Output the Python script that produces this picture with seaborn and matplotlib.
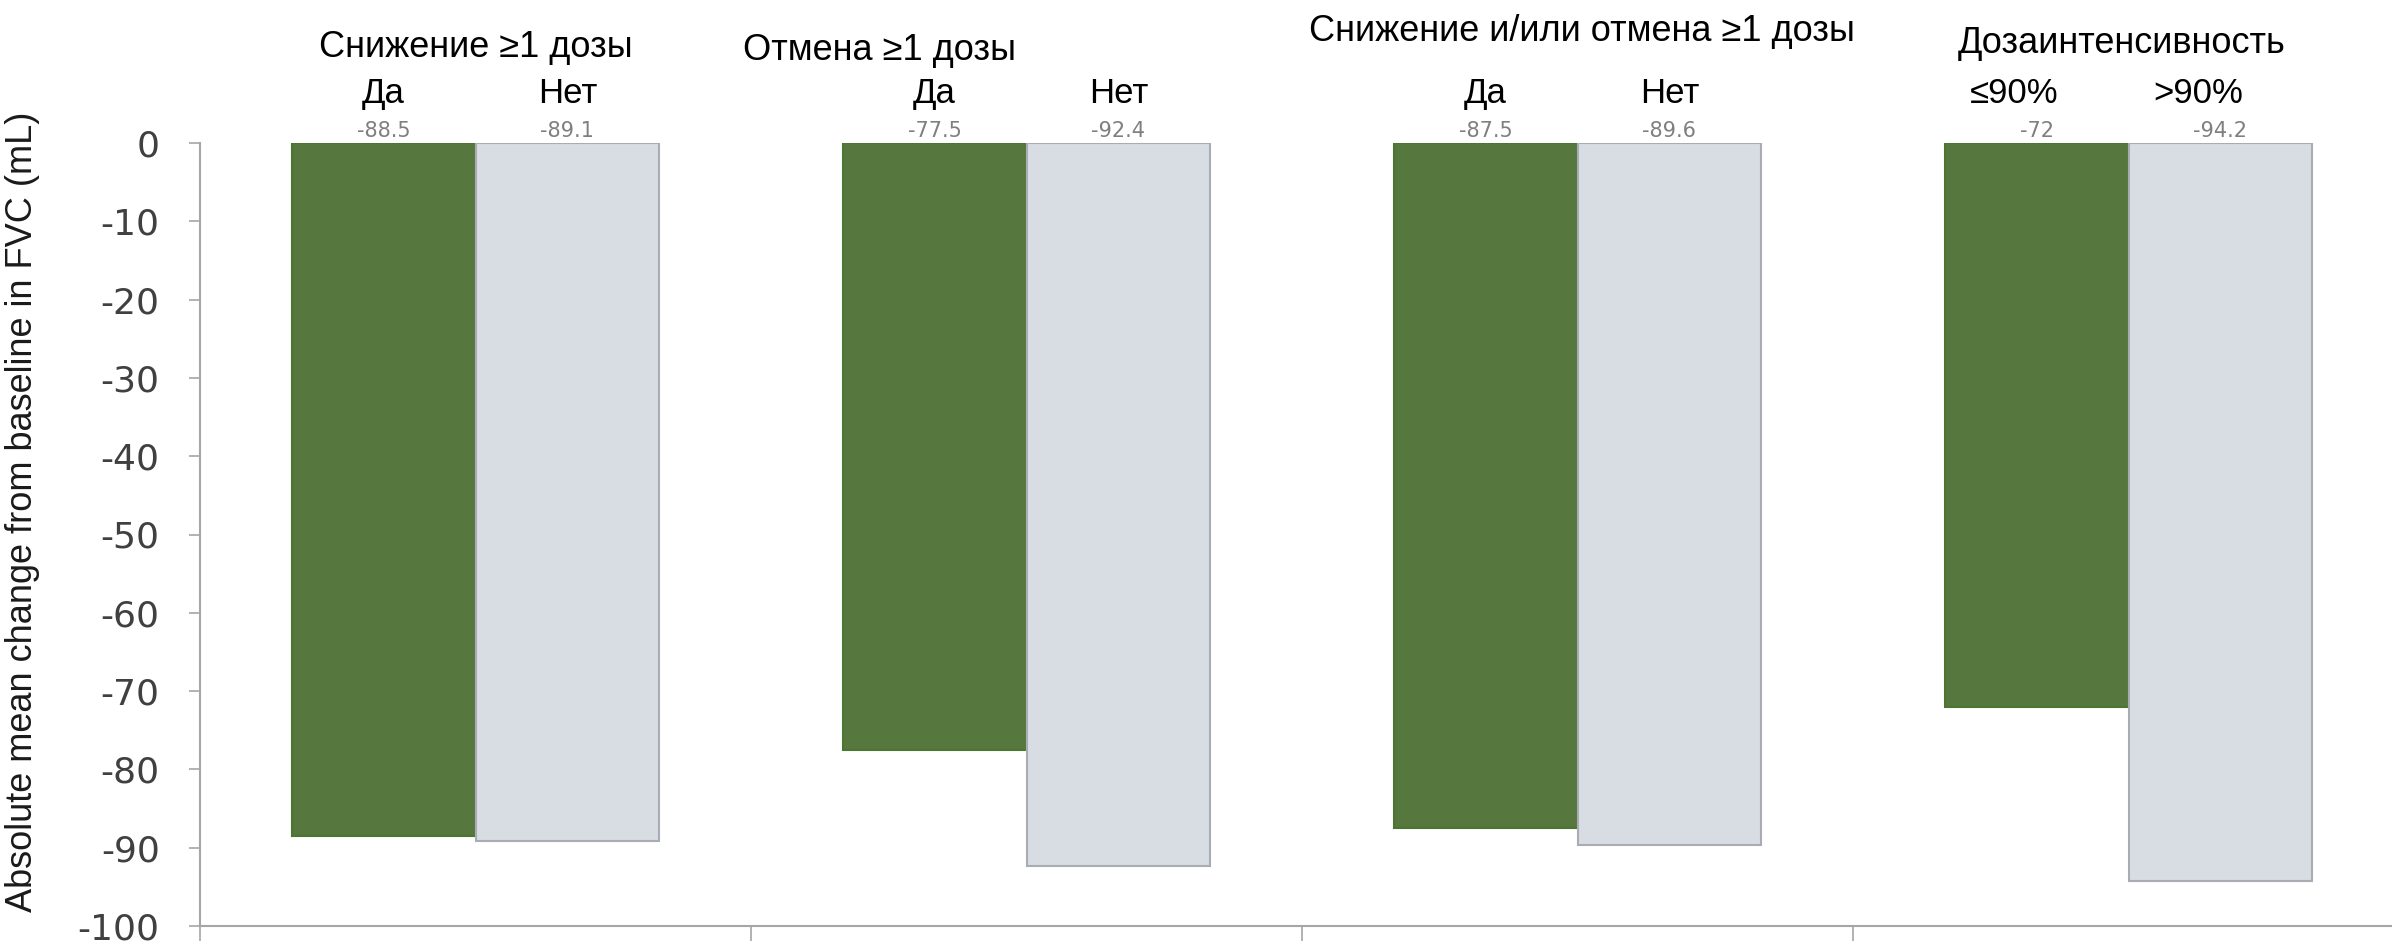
import matplotlib
matplotlib.use("Agg")
import matplotlib.pyplot as plt
import seaborn as sns
import pandas as pd
import warnings
warnings.filterwarnings('ignore')

# data
groups = ["Снижение ≥1 дозы", "Отмена ≥1 дозы",
          "Снижение и/или отмена ≥1 дозы", "Дозаинтенсивность"]
sub_labels = [["Да", "Нет"], ["Да", "Нет"], ["Да", "Нет"], ["≤90%", ">90%"]]
first_vals = [-88.5, -77.5, -87.5, -72.0]
second_vals = [-89.1, -92.4, -89.6, -94.2]
value_text = [["-88.5", "-89.1"], ["-77.5", "-92.4"], ["-87.5", "-89.6"], ["-72", "-94.2"]]
yticks = list(range(0, -101, -10))

df = pd.DataFrame({
    "group": groups * 2,
    "level": ["first"] * 4 + ["second"] * 4,
    "value": first_vals + second_vals,
})

sns.set_style("white")
plt.rcParams["font.family"] = ["Liberation Sans", "DejaVu Sans"]

fig = plt.figure(figsize=(23.92, 9.44), dpi=100)
ax = fig.add_axes([200 / 2392, 18 / 944, 2204 / 2392, 783 / 944])

sns.barplot(data=df, x="group", y="value", hue="level", order=groups,
            palette={"first": "#548235", "second": "#d6dce5"},
            width=0.667, dodge=True, legend=False, ax=ax, errorbar=None)
edge = {"first": "#4b7530", "second": "#a9adb3"}
for container, lvl in zip(ax.containers, ["first", "second"]):
    for bar in container:
        bar.set_edgecolor(edge[lvl])
        bar.set_linewidth(1.5)

ax.set_xlim(-0.5, 3.5)
ax.set_ylim(-100, 0)
ax.set_yticks(yticks)
ax.set_yticklabels([str(t) for t in yticks], family="DejaVu Sans",
                   fontsize=26, color="#404040")
ax.set_xticks([-0.5, 0.5, 1.5, 2.5])
ax.set_xticklabels([])
ax.tick_params(axis="y", direction="out", length=8, width=1.2,
               color="#a6a6a6", pad=21, left=True)
ax.tick_params(axis="x", direction="out", length=11, width=1.2,
               color="#a6a6a6", bottom=True)
for side in ["top", "right"]:
    ax.spines[side].set_visible(False)
for side in ["left", "bottom"]:
    ax.spines[side].set_color("#a6a6a6")
    ax.spines[side].set_linewidth(1.5)
ax.set_xlabel("")
ax.set_ylabel("")

fig.text(23 / 2392, 1 - 512 / 944,
         "Absolute mean change from baseline in FVC (mL)",
         rotation=90, ha="center", va="center", fontsize=26,
         color="#1a1a1a")

# group titles
title_x = [0.0, 0.734, 2.008, 2.988]
title_y = [12.2, 11.8, 14.2, 12.7]
for gx, gy, name in zip(title_x, title_y, groups):
    ax.text(gx, gy, name, ha="center", va="center", fontsize=26,
            color="black", clip_on=False)

# value labels (partly hidden in the original) and sub labels
offsets = [-0.1667, 0.1667]
for i in range(len(groups)):
    for j in range(2):
        ax.text(i + offsets[j], 0.3, value_text[i][j], ha="center", va="bottom",
                fontsize=15, family="DejaVu Sans", color="#7f7f7f",
                clip_on=False, zorder=3)
        shift = -0.04 if i == 3 else 0.0
        ax.text(i + offsets[j] + shift, 6.3, sub_labels[i][j], ha="center",
                va="center", fontsize=25, color="black", clip_on=False, zorder=4)

fig.savefig("out.png", dpi=100)
